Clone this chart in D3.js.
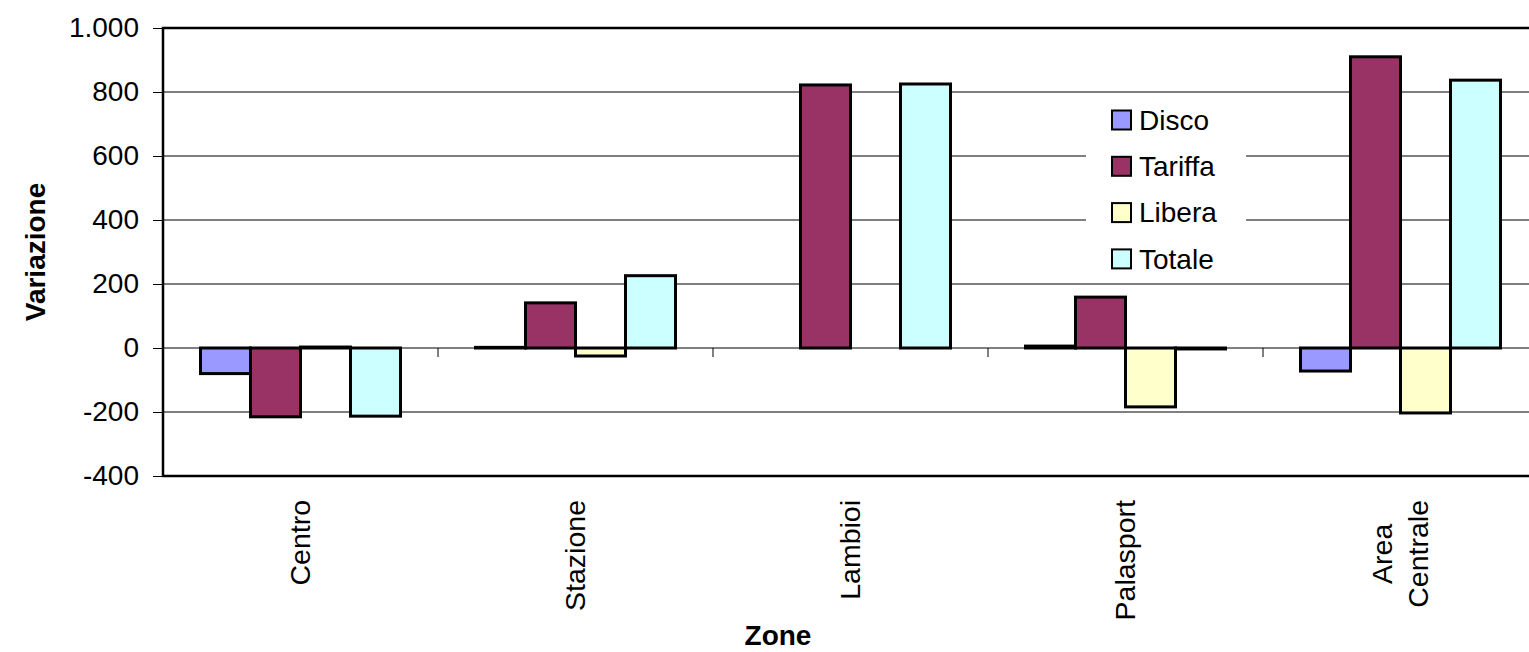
<!DOCTYPE html>
<html>
<head>
<meta charset="utf-8">
<script src="https://cdn.jsdelivr.net/npm/d3@7"></script>
<style>
  body { margin: 0; background: #fff; }
  text { font-family: "Liberation Sans", Arial, sans-serif; fill: #000; }
</style>
</head>
<body>
<script>
var zone = ["Centro", "Stazione", "Lambioi", "Palasport", "Area\nCentrale"];
var serie = ["Disco", "Tariffa", "Libera", "Totale"];
var colori = ["#9999FF", "#993366", "#FFFFCC", "#CCFFFF"];
var disco = [-80, 2, 0, 6, -72];
var tariffa = [-215, 141, 822, 159, 910];
var libera = [3, -25, 0, -184, -203];
var totale = [-213, 226, 825, -3, 837];
var yTicks = [-400, -200, 0, 200, 400, 600, 800, 1000];
var yLabels = ["-400", "-200", "0", "200", "400", "600", "800", "1.000"];

var valori = [disco, tariffa, libera, totale];

function graficar() {
    var w = 1529;
    var h = 652;
    var left = 163, top = 28, right = 1538, bottom = 476;

    var svg = d3.select("body")
        .append("svg")
        .attr("width", w)
        .attr("height", h);

    var y = d3.scaleLinear().domain([-400, 1000]).range([bottom, top]);
    var x0 = d3.scaleBand().domain(zone).range([left, right]).padding(0);
    var x1 = d3.scaleBand().domain(serie)
        .range([0, x0.bandwidth()])
        .paddingInner(0).paddingOuter(37.5 / 50);

    // gridlines
    svg.append("g").selectAll("line")
        .data(yTicks.filter(function (d) { return d > -400 && d < 1000; }))
        .enter().append("line")
        .attr("x1", left).attr("x2", right)
        .attr("y1", function (d) { return y(d); })
        .attr("y2", function (d) { return y(d); })
        .attr("stroke", "#000").attr("stroke-width", 1);

    // category ticks on the zero line
    svg.append("g").selectAll("line")
        .data(zone.slice(1))
        .enter().append("line")
        .attr("x1", function (d) { return x0(d); })
        .attr("x2", function (d) { return x0(d); })
        .attr("y1", y(0)).attr("y2", y(0) + 9)
        .attr("stroke", "#000").attr("stroke-width", 1);

    // y axis
    var yAxis = d3.axisLeft(y).tickValues(yTicks).tickSize(10).tickPadding(14)
        .tickFormat(function (d, i) { return yLabels[i]; });
    var ga = svg.append("g").attr("transform", "translate(" + left + ",0)").call(yAxis);
    ga.select(".domain").remove();
    ga.selectAll("line").attr("stroke", "#000");
    ga.selectAll("text").style("font-size", "28px").attr("font-family", null);

    // plot border (top, left, bottom)
    svg.append("path")
        .attr("d", "M" + right + "," + top + "H" + left + "V" + bottom + "H" + right)
        .attr("fill", "none").attr("stroke", "#000").attr("stroke-width", 2.5);

    // bars
    var gruppi = svg.append("g").selectAll("g")
        .data(zone)
        .enter().append("g")
        .attr("transform", function (d) { return "translate(" + x0(d) + ",0)"; });

    gruppi.selectAll("rect")
        .data(function (d, i) {
            return serie.map(function (s, j) { return { s: s, v: valori[j][i], c: colori[j] }; })
                .filter(function (e) { return e.v !== 0; });
        })
        .enter().append("rect")
        .attr("x", function (d) { return x1(d.s); })
        .attr("width", x1.bandwidth())
        .attr("y", function (d) { return y(Math.max(0, d.v)); })
        .attr("height", function (d) { return Math.abs(y(d.v) - y(0)); })
        .attr("fill", function (d) { return d.c; })
        .attr("stroke", "#000")
        .attr("stroke-width", 3);

    // category labels
    zone.forEach(function (z) {
        var cx = x0(z) + x0.bandwidth() / 2;
        var righe = z.split("\n");
        var t = svg.append("text")
            .style("font-size", "28.5px")
            .attr("text-anchor", "middle");
        righe.forEach(function (r, k) {
            t.append("tspan")
                .attr("x", 0)
                .attr("y", (k - (righe.length - 1) / 2) * 36)
                .attr("dy", "0.35em")
                .text(r);
        });
        var len = t.node().getBBox().width;
        t.attr("transform", "translate(" + cx + "," + (500 + len / 2) + ") rotate(-90)");
    });

    // axis titles
    svg.append("text")
        .attr("transform", "translate(45,252) rotate(-90)")
        .attr("text-anchor", "middle")
        .style("font-size", "28px").style("font-weight", "bold")
        .text("Variazione");

    svg.append("text")
        .attr("x", 778).attr("y", 645)
        .attr("text-anchor", "middle")
        .style("font-size", "28px").style("font-weight", "bold")
        .text("Zone");

    // legend
    var leg = svg.append("g");
    leg.append("rect")
        .attr("x", 1086).attr("y", 94)
        .attr("width", 160).attr("height", 188)
        .attr("fill", "#fff");

    var voci = leg.selectAll("g.voce")
        .data(serie)
        .enter().append("g")
        .attr("class", "voce")
        .attr("transform", function (d, i) { return "translate(1112," + (120 + i * 46.3) + ")"; });

    voci.append("rect")
        .attr("x", 0).attr("y", -9.5)
        .attr("width", 19).attr("height", 19)
        .attr("fill", function (d, i) { return colori[i]; })
        .attr("stroke", "#000").attr("stroke-width", 2);

    voci.append("text")
        .attr("x", 27).attr("dy", "0.35em")
        .style("font-size", "28px")
        .text(function (d) { return d; });
}

graficar();
</script>
</body>
</html>
